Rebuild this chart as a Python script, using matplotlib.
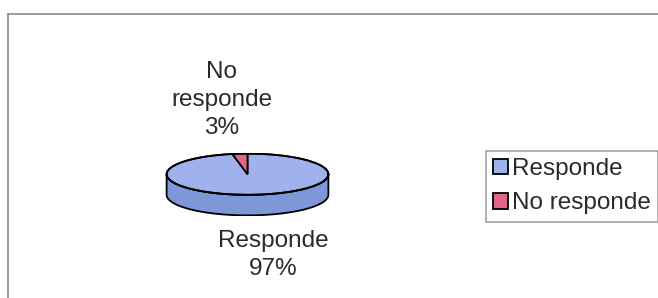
import numpy as np
import matplotlib.pyplot as plt
from matplotlib.patches import Wedge, Polygon
from matplotlib.lines import Line2D

labels = ["Responde", "No responde"]
values = [97, 3]
top_colors = ["#A0B2EC", "#E2668A"]
side_colors = ["#7E97D6", "#B04A6A"]

W, H = 658, 298
DEPTH = 1.0  # thickness of the disc, in units of the y radius

plt.rcParams["font.family"] = ["Liberation Sans", "DejaVu Sans"]


def px(x, y):
    # pixel position (from top-left) -> figure fraction
    return x / W, 1 - y / H


def draw_pie(ax):
    total = float(sum(values))
    start = 90.0
    wedges = []
    # sides first (front half of the disc, 180..360 deg)
    for val, side in zip(values, side_colors):
        t2 = start
        t1 = start - 360.0 * val / total
        start = t1
        a1, a2 = np.mod(t1, 360), np.mod(t2, 360)
        if a2 <= a1:
            a2 += 360
        for lo, hi in [(a1, a2), (a1 - 360, a2 - 360), (a1 + 360, a2 + 360)]:
            s, e = max(lo, 180), min(hi, 360)
            if e > s:
                th = np.radians(np.linspace(s, e, 80))
                xs = np.cos(th)
                ys = np.sin(th)
                pts = np.concatenate([np.column_stack([xs, ys]),
                                      np.column_stack([xs[::-1], ys[::-1] - DEPTH])])
                ax.add_patch(Polygon(pts, closed=True, facecolor=side,
                                     edgecolor="black", linewidth=1.3))
    start = 90.0
    for val, col, lab in zip(values, top_colors, labels):
        t2 = start
        t1 = start - 360.0 * val / total
        start = t1
        w = Wedge((0, 0), 1.0, t1, t2, facecolor=col, edgecolor="black",
                  linewidth=1.3, label=lab)
        ax.add_patch(w)
        wedges.append(w)
    # outline of top ellipse
    th = np.linspace(0, 2 * np.pi, 300)
    ax.plot(np.cos(th), np.sin(th), color="black", linewidth=1.3)
    return wedges


def main():
    fig = plt.figure(figsize=(W / 100, H / 100), dpi=100)

    # chart area border (top and left visible)
    fig.add_artist(Line2D([8 / W, 8 / W], [0, 1 - 14 / H], color="#8a8a8a", linewidth=1.2))
    fig.add_artist(Line2D([8 / W, 1], [1 - 14 / H, 1 - 14 / H], color="#8a8a8a", linewidth=1.2))

    x0, y0 = px(165, 216)
    ax = fig.add_axes([x0, y0, 165 / W, 63 / H])
    ax.set_xlim(-1.02, 1.02)
    ax.set_ylim(-1 - DEPTH - 0.03, 1.03)
    ax.axis("off")
    wedges = draw_pie(ax)

    fs = 17.5
    pct = [round(100 * v / sum(values)) for v in values]
    fig.text(*px(273, 255), "%s\n%d%%" % (labels[0], pct[0]), ha="center", va="center",
             fontsize=fs, color="#2a2a2a", linespacing=1.38)
    fig.text(*px(222, 100), "No\nresponde\n%d%%" % pct[1], ha="center", va="center",
             fontsize=fs, color="#2a2a2a", linespacing=1.38)

    leg = fig.legend(handles=wedges, labels=labels, loc="upper left",
                     bbox_to_anchor=px(486, 151), fontsize=fs,
                     handlelength=0.6, handleheight=0.6, handletextpad=0.15,
                     borderpad=0.3, labelspacing=0.5, borderaxespad=0,
                     fancybox=False)
    leg.get_frame().set_edgecolor("#8a8a8a")
    leg.get_frame().set_linewidth(1.2)
    for t in leg.get_texts():
        t.set_color("#2a2a2a")

    fig.savefig("out.png", dpi=100)


if __name__ == "__main__":
    main()
